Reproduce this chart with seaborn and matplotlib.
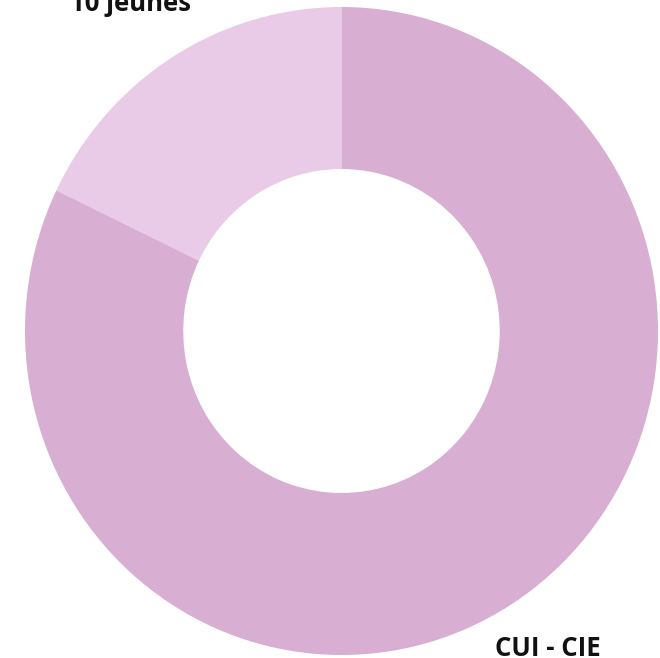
import matplotlib
matplotlib.use("Agg")
import matplotlib.pyplot as plt
import seaborn as sns

sns.set_theme(style="white")
plt.rcParams['font.family'] = ['Open Sans', 'DejaVu Sans']

categories = ["10 jeunes", "CUI - CIE"]
values = [10, 46]
colors = ["#EACBE7", "#D8AED2"]

W, H = 660, 658
fig = plt.figure(figsize=(W / 100, H / 100), dpi=100)
ax = fig.add_axes([0, 0, 1, 1])
ax.pie(values, colors=colors, startangle=90, counterclock=True,
       wedgeprops=dict(width=0.5, linewidth=0))
ax.set_aspect('auto')
# pixel geometry: center (341.5, 331), radius 316.5 px (x), 324 px (y)
cx, cy, rx, ry = 341.5, 331.0, 316.5, 324.0
ax.set_xlim(-cx / rx, (W - cx) / rx)
ax.set_ylim(-(H - cy) / ry, cy / ry)
ax.axis('off')

fig.text(130 / W, 1 - 11 / H, categories[0], ha='center', va='baseline',
         fontsize=18.5, fontweight='bold', color='#111111')
fig.text(548 / W, 2 / H, categories[1], ha='center', va='baseline',
         fontsize=18.5, fontweight='bold', color='#111111')

fig.savefig("out.png", dpi=100)
